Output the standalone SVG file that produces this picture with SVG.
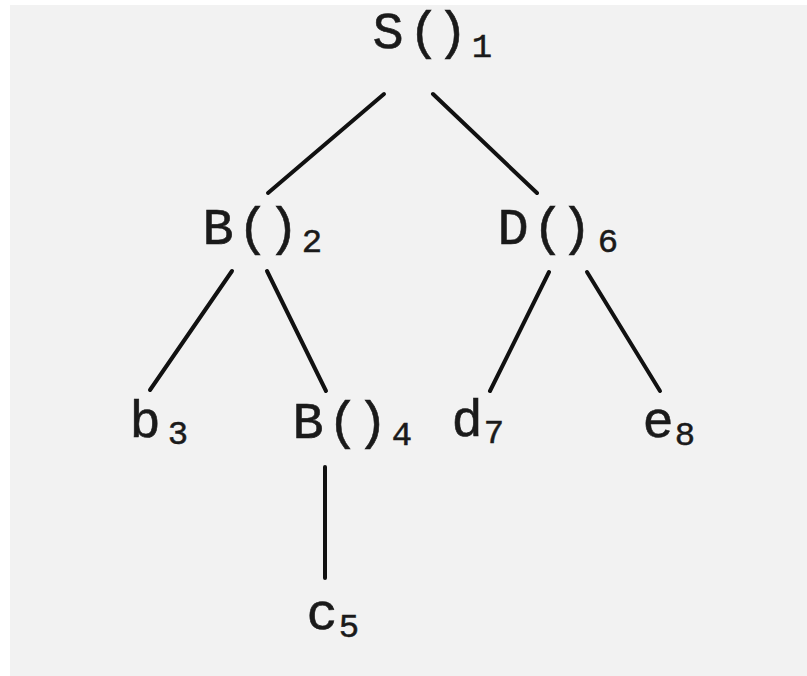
<svg xmlns="http://www.w3.org/2000/svg" width="807" height="676" viewBox="0 0 807 676">
<style>
.m{font-family:"Liberation Mono","DejaVu Sans Mono",monospace;font-size:52px;fill:#1a1a1a;stroke:#1a1a1a;stroke-width:0.6;text-anchor:middle}
.s{font-family:"Liberation Mono","DejaVu Sans Mono",monospace;font-size:34px;fill:#1a1a1a;stroke:#1a1a1a;stroke-width:0.5;text-anchor:middle}
.e{stroke:#111;stroke-width:4;stroke-linecap:round;fill:none}
</style>
<rect width="807" height="676" fill="#ffffff"/>
<rect x="10" y="5" width="797" height="671" fill="#f2f2f2"/>
<g id="connectors">
<line class="e" x1="384" y1="94" x2="268" y2="193"/>
<line class="e" x1="433" y1="94" x2="537" y2="193"/>
<line class="e" x1="232" y1="271" x2="150" y2="390"/>
<line class="e" x1="267" y1="271" x2="326" y2="391"/>
<line class="e" x1="549" y1="272" x2="490" y2="391"/>
<line class="e" x1="587" y1="272" x2="660" y2="391"/>
<line class="e" x1="325" y1="467" x2="325" y2="578"/>
</g>
<g id="n1"><text class="m" x="388 424 452" y="48">S()</text><text class="s" x="482" y="57">1</text></g>
<g id="n2"><text class="m" x="218 253 283" y="244">B()</text><text class="s" x="312" y="252">2</text></g>
<g id="n6"><text class="m" x="513 548 576" y="244">D()</text><text class="s" x="608" y="252">6</text></g>
<g id="n3"><text class="m" x="145" y="437">b</text><text class="s" x="178" y="444">3</text></g>
<g id="n4"><text class="m" x="308 343 372" y="438">B()</text><text class="s" x="402" y="445">4</text></g>
<g id="n7"><text class="m" x="467" y="436">d</text><text class="s" x="494" y="443">7</text></g>
<g id="n8"><text class="m" x="658" y="437">e</text><text class="s" x="685" y="445">8</text></g>
<g id="n5"><text class="m" x="322" y="629">c</text><text class="s" x="349" y="637">5</text></g>
</svg>
